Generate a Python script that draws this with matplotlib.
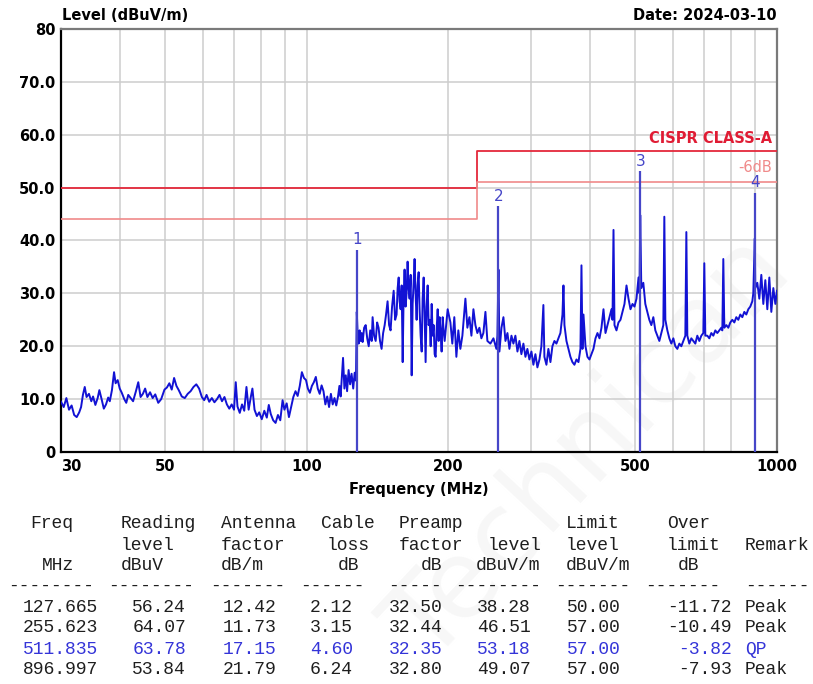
import matplotlib
matplotlib.use('Agg')
import matplotlib.pyplot as plt
from matplotlib.ticker import FixedLocator, NullLocator

# ---- scan trace (MHz, dBuV/m) ----
freq_mhz = [
    30.0, 30.4, 30.8, 31.2, 31.6, 32.0, 32.4, 32.8, 33.1, 33.4, 33.7, 34.0, 34.4, 34.8, 35.1,
    35.5, 35.9, 36.2, 36.6, 37.0, 37.4, 37.8, 38.1, 38.5, 38.9, 39.2, 39.6, 40.0, 40.4, 40.9,
    41.3, 41.7, 42.2, 42.7, 43.3, 43.8, 44.3, 44.8, 45.3, 45.8, 46.4, 47.0, 47.6, 48.3, 49.0,
    49.8, 50.4, 51.0, 51.6, 52.2, 52.8, 53.4, 54.2, 55.0, 55.8, 56.6, 57.4, 58.2, 59.0, 59.8,
    60.5, 61.2, 62.0, 62.8, 63.6, 64.4, 65.2, 66.0, 66.8, 67.6, 68.4, 69.2, 70.0, 70.6, 71.2,
    72.0, 72.8, 73.6, 74.4, 75.2, 76.0, 76.6, 77.4, 78.3, 79.2, 80.2, 81.2, 82.2, 83.0, 83.8,
    84.8, 85.8, 86.8, 87.8, 88.8, 89.6, 90.6, 91.6, 92.6, 93.6, 94.6, 95.6, 96.6, 97.6, 98.6,
    99.6, 100.5, 101.5, 102.5, 103.5, 104.5, 105.5, 106.5, 107.5, 108.5, 109.5, 110.5, 111.5,
    112.5, 113.5, 114.5, 115.5, 116.5, 117.3, 118.0, 118.7, 119.4, 120.2, 121.0, 121.8, 122.7,
    123.6, 124.5, 125.5, 126.4, 127.2, 127.7,
    128.3, 128.9, 129.5, 130.1, 130.8, 131.4, 132.4, 133.4, 134.4, 135.4, 136.4, 137.4, 138.0,
    139.0, 140.1, 141.1, 142.1, 143.1, 144.2, 145.3, 146.4, 147.4, 148.5, 149.6, 150.7, 151.8,
    153.0, 154.1, 155.2, 156.0, 156.8, 157.5, 158.3, 159.1, 159.9, 160.6, 161.4, 162.2, 163.0,
    163.8, 164.6, 165.4, 166.3, 167.1, 167.9, 168.7, 169.5, 170.3, 171.2, 172.0, 172.9, 173.7,
    174.6, 175.5, 176.3, 177.2, 178.0, 178.9, 179.8, 180.7, 181.6, 182.5, 183.4, 184.3, 185.2,
    186.1, 187.0, 187.9, 188.9, 189.8, 190.7, 191.6, 192.6, 193.5, 194.5, 195.4, 196.4, 197.8,
    199.3,
    202.0, 203.9, 205.9, 208.0, 210.0, 212.1, 214.2, 217.4, 219.5, 221.7, 223.9, 226.1, 228.3,
    230.5, 232.8, 235.1, 237.4, 239.8, 242.1, 245.7, 249.4, 253.0, 254.3, 255.6, 256.8, 259.4,
    261.9, 264.5, 267.1, 269.7, 272.4, 275.0, 277.7, 280.5, 283.2, 286.0, 288.8, 291.7, 294.5,
    297.4, 300.4, 303.3, 306.3, 309.3, 312.4, 315.4, 318.5, 320.1, 323.3, 326.4, 329.7, 332.9,
    336.2, 339.5, 342.9, 346.2, 349.7, 351.4, 353.1, 356.6, 360.1, 363.6, 367.2, 370.8, 374.5,
    378.2, 381.9, 383.8, 385.7, 387.6, 391.4, 395.2, 399.1, 403.1, 407.0, 411.1, 415.1, 419.2,
    423.3, 427.5, 431.7, 436.0, 440.3, 444.6, 446.8, 449.0, 451.2, 455.6, 460.1, 464.6, 469.2,
    473.8, 478.5, 483.2, 488.0, 492.8, 497.6, 502.5, 507.5, 510.0, 511.8, 514.5, 519.6, 524.7,
    529.9, 535.1, 540.4, 545.7, 551.1, 556.5, 562.0, 567.5, 573.1, 575.9, 578.8, 584.5, 590.2,
    596.0, 601.9, 607.8, 613.8, 619.8, 625.9, 632.1, 638.3, 641.5, 644.6, 650.9, 657.3, 663.8,
    670.3, 676.9, 683.6, 690.3, 697.1, 700.5, 703.9, 710.9, 717.8, 724.9, 732.1, 739.3, 746.5,
    753.9, 761.3, 765.1, 768.8, 772.6, 780.2, 787.9, 795.6, 803.5, 811.4, 819.3, 827.4, 835.5,
    843.8, 852.1, 860.4, 868.9, 877.4, 886.1, 890.4, 897.0, 899.2, 908.1, 917.0, 926.1, 935.2,
    944.4, 953.7, 963.1, 972.6, 982.2, 991.9, 1000.0,
]
level_dbuv = [
    9.5, 8.5, 10.2, 8.0, 8.8, 7.0, 6.6, 7.5, 8.5, 10.8, 12.3, 10.4, 11.0, 9.6, 10.5,
    8.9, 10.2, 11.7, 10.0, 8.2, 9.0, 10.3, 9.6, 11.7, 15.1, 13.0, 13.6, 12.0, 11.2, 10.0,
    9.3, 10.8, 10.2, 9.6, 11.5, 13.2, 10.4, 11.0, 12.0, 10.4, 11.3, 10.2, 10.9, 9.3, 10.0,
    11.8, 12.2, 13.0, 11.8, 14.0, 12.5, 11.7, 10.5, 10.2, 11.0, 11.5, 12.3, 12.8, 12.0, 10.4,
    9.8, 10.8, 9.5, 10.2, 9.4, 10.0, 10.8, 9.6, 10.4, 9.0, 8.2, 9.0, 8.0, 13.2, 8.6,
    7.4, 9.0, 7.8, 12.3, 8.0, 10.4, 12.0, 8.0, 6.8, 7.5, 6.2, 7.8, 6.5, 8.9, 7.2,
    6.0, 5.5, 7.0, 6.0, 9.8, 8.0, 9.2, 6.6, 8.5, 10.4, 11.5, 10.6, 12.5, 15.1, 14.0,
    13.6, 12.0, 11.2, 12.5, 13.2, 14.2, 12.0, 11.0, 12.6, 11.5, 9.0, 10.5, 8.5,
    11.0, 9.0, 10.2, 8.8, 10.5, 12.5, 10.5, 14.0, 17.8, 12.0, 14.5, 11.5, 15.5,
    12.8, 14.8, 12.0, 15.0, 13.5, 26.5,
    22.0, 20.5, 23.0, 21.0, 22.5, 20.8, 23.5, 24.0, 21.5, 20.0, 23.0, 21.0, 25.5,
    22.0, 21.0, 24.5, 23.5, 21.0, 19.5, 22.5, 24.0, 26.0, 28.5, 24.0, 23.0, 27.5,
    30.5, 25.0, 26.0, 31.0, 33.0, 28.5, 27.0, 31.5, 17.0, 29.0, 34.5, 27.5, 30.0,
    36.0, 31.0, 29.0, 33.5, 14.5, 28.0, 32.0, 36.5, 30.0, 25.0, 31.5, 34.0, 27.0,
    22.0, 19.0, 29.0, 33.0, 26.5, 17.0, 27.5, 31.5, 24.0, 25.0, 20.0, 28.0, 22.0,
    24.0, 18.5, 18.0, 23.5, 27.0, 21.0, 25.5, 22.5, 19.0, 25.5, 23.0, 21.0, 24.0,
    27.0,
    24.5, 20.5, 25.5, 18.0, 23.0, 19.5, 22.0, 29.0, 23.5, 25.5, 22.0, 27.0, 24.0,
    22.5, 23.5, 21.5, 22.5, 26.5, 21.0, 20.5, 21.5, 19.5, 22.0, 34.5, 19.0, 23.5,
    25.5, 21.0, 22.5, 19.5, 22.0, 20.5, 22.0, 19.0, 21.0, 18.5, 20.5, 18.0, 19.5,
    17.5, 19.0, 16.5, 18.5, 16.0, 17.5, 20.0, 27.8, 18.0, 16.5, 19.5, 17.0, 20.0,
    21.0, 20.5, 21.5, 22.5, 26.0, 31.5, 24.0, 21.0, 19.5, 18.0, 17.0, 16.5, 17.5,
    17.0, 19.5, 35.3, 19.5, 26.0, 20.0, 18.0, 17.5, 18.5, 19.5, 21.5, 22.5, 21.5,
    23.5, 27.0, 22.5, 24.0, 25.5, 27.0, 25.0, 42.0, 24.0, 23.0, 24.5, 25.0, 26.5,
    28.0, 31.5, 29.0, 27.0, 28.0, 27.5, 29.0, 33.0, 30.0, 44.8, 31.0, 32.0, 28.0,
    26.5, 25.0, 24.0, 25.5, 23.0, 22.0, 21.0, 22.5, 24.0, 44.5, 25.0, 23.0, 21.5,
    20.5, 21.5, 20.0, 19.5, 20.5, 20.0, 21.0, 22.0, 41.6, 22.0, 20.5, 21.5, 21.0,
    20.5, 22.0, 21.0, 22.0, 22.5, 35.7, 22.0, 22.0, 21.5, 22.5, 22.0, 23.0, 22.5,
    23.0, 23.5, 23.0, 36.5, 23.5, 24.0, 23.5, 24.5, 25.0, 24.5, 25.5, 25.0, 26.0,
    25.5, 26.5, 26.0, 27.0, 27.5, 28.5, 30.0, 40.4, 31.0, 32.0, 29.0, 33.5, 28.0,
    32.5, 27.0, 33.0, 26.5, 31.0, 28.0, 30.5,
]

# limit line (CISPR class A, 10 m) and the -6 dB margin
limit_freq = [30, 230, 230, 1000]
limit_level = [50, 50, 57, 57]
margin_db = 6

# marker table
tbl_freq = ['127.665', '255.623', '511.835', '896.997']
tbl_reading = ['56.24', '64.07', '63.78', '53.84']
tbl_antenna = ['12.42', '11.73', '17.15', '21.79']
tbl_cable = ['2.12', '3.15', '4.60', '6.24']
tbl_preamp = ['32.50', '32.44', '32.35', '32.80']
tbl_level = ['38.28', '46.51', '53.18', '49.07']
tbl_limit = ['50.00', '57.00', '57.00', '57.00']
tbl_over = ['-11.72', '-10.49', '-3.82', '-7.93']
tbl_remark = ['Peak', 'Peak', 'QP', 'Peak']

x_ticks = [30, 50, 100, 200, 500, 1000]
x_grid = [40, 50, 60, 70, 80, 90, 100, 200, 300, 400, 500, 600, 700, 800, 900]
y_ticks = [0, 10, 20, 30, 40, 50, 60, 70, 80]
y_labels = ['0', '10.0', '20.0', '30.0', '40.0', '50.0', '60.0', '70.0', '80']

W, H = 813, 684
TRACE = '#1212d4'
MARK = '#4646c8'


def px(x, y):
    """pixel position -> figure fraction"""
    return x / W, 1 - y / H


fig = plt.figure(figsize=(W / 100, H / 100), dpi=100)
fig.patch.set_facecolor('white')

# very faint watermark, kept under the axes
fig.text(*px(590, 450), 'Technican', rotation=47, fontsize=78, color='#f7f7f7',
         ha='center', va='center', zorder=-5)

ax = fig.add_axes([61 / W, 1 - 452 / H, (777 - 61) / W, (452 - 29) / H])
ax.set_zorder(1)
ax.set_facecolor('none')
ax.set_xscale('log')
ax.set_xlim(30, 1000)
ax.set_ylim(0, 80)

for g in x_grid:
    ax.axvline(g, color='#cdcdcd', lw=1.1, zorder=1)
for g in y_ticks[1:-1]:
    ax.axhline(g, color='#cdcdcd', lw=1.1, zorder=1)

ax.plot(limit_freq, limit_level, color='#e4283a', lw=1.3, zorder=3)
ax.plot(limit_freq, [v - margin_db for v in limit_level], color='#f08a8a', lw=1.2, zorder=3)

ax.plot(freq_mhz, level_dbuv, color=TRACE, lw=1.4, zorder=4)

mk_f = [float(f) for f in tbl_freq]
mk_l = [float(v) for v in tbl_level]
ax.vlines(mk_f, 0, mk_l, color=MARK, lw=1.6, zorder=5)
for i, (f, v) in enumerate(zip(mk_f, mk_l)):
    ax.text(f, v + 0.4, str(i + 1), ha='center', va='bottom', color=MARK, fontsize=11, zorder=6)

ax.text(975, 57.8, 'CISPR CLASS-A', ha='right', va='bottom', color='#e01c34',
        fontsize=10.5, fontweight='bold')
ax.text(975, 52.3, '-6dB', ha='right', va='bottom', color='#f08a8a', fontsize=10.5)

ax.xaxis.set_major_locator(FixedLocator(x_ticks))
ax.xaxis.set_minor_locator(NullLocator())
ax.set_xticklabels([str(t) for t in x_ticks], fontsize=10.5, fontweight='bold')
ax.get_xticklabels()[0].set_ha('left')
ax.set_yticks(y_ticks)
ax.set_yticklabels(y_labels, fontsize=10.5, fontweight='bold')
ax.tick_params(length=0, pad=4)
ax.tick_params(axis='x', pad=5)

for s in ['left', 'bottom']:
    ax.spines[s].set_color('black')
    ax.spines[s].set_linewidth(1.6)
for s in ['top', 'right']:
    ax.spines[s].set_color('#7a7a7a')
    ax.spines[s].set_linewidth(1.6)

ax.set_xlabel('Frequency (MHz)', fontsize=10.5, fontweight='bold', labelpad=6)
fig.text(*px(62, 15), 'Level (dBuV/m)', fontsize=10.5, fontweight='bold', va='center')
fig.text(*px(777, 15), 'Date: 2024-03-10', fontsize=10.5, fontweight='bold', va='center', ha='right')

# ---- table under the chart ----
mono = dict(family='Liberation Mono', fontsize=13, va='center', color='#1e1e1e')
header = [
    (523, [('Freq', 30), ('Reading', 121), ('Antenna', 221), ('Cable', 321),
           ('Preamp', 399), ('Limit', 566), ('Over', 667)]),
    (545, [('level', 121), ('factor', 221), ('loss', 327), ('factor', 399),
           ('level', 488), ('level', 566), ('limit', 667), ('Remark', 745)]),
    (566, [('MHz', 42), ('dBuV', 121), ('dB/m', 221), ('dB', 338), ('dB', 421),
           ('dBuV/m', 476), ('dBuV/m', 566), ('dB', 678)]),
    (586, [('-' * 8, 8), ('-' * 8, 108), ('-' * 7, 210), ('-' * 6, 300), ('-' * 5, 388),
           ('-' * 8, 455), ('-' * 7, 555), ('-' * 7, 645), ('-' * 6, 745)]),
]
for y, cells in header:
    for txt, x in cells:
        fig.text(*px(x, y), txt, ha='left', **mono)

cols = [(tbl_freq, 98), (tbl_reading, 186), (tbl_antenna, 276), (tbl_cable, 353),
        (tbl_preamp, 443), (tbl_level, 531), (tbl_limit, 621), (tbl_over, 732)]
row_y = [607, 628, 649, 670]
for r, y in enumerate(row_y):
    c = '#3434d8' if tbl_remark[r] == 'QP' else '#1e1e1e'
    for vals, xr in cols:
        fig.text(*px(xr, y), vals[r], ha='right', **{**mono, 'color': c})
    fig.text(*px(745, y), tbl_remark[r], ha='left', **{**mono, 'color': c})

fig.savefig('out.png', dpi=100)
